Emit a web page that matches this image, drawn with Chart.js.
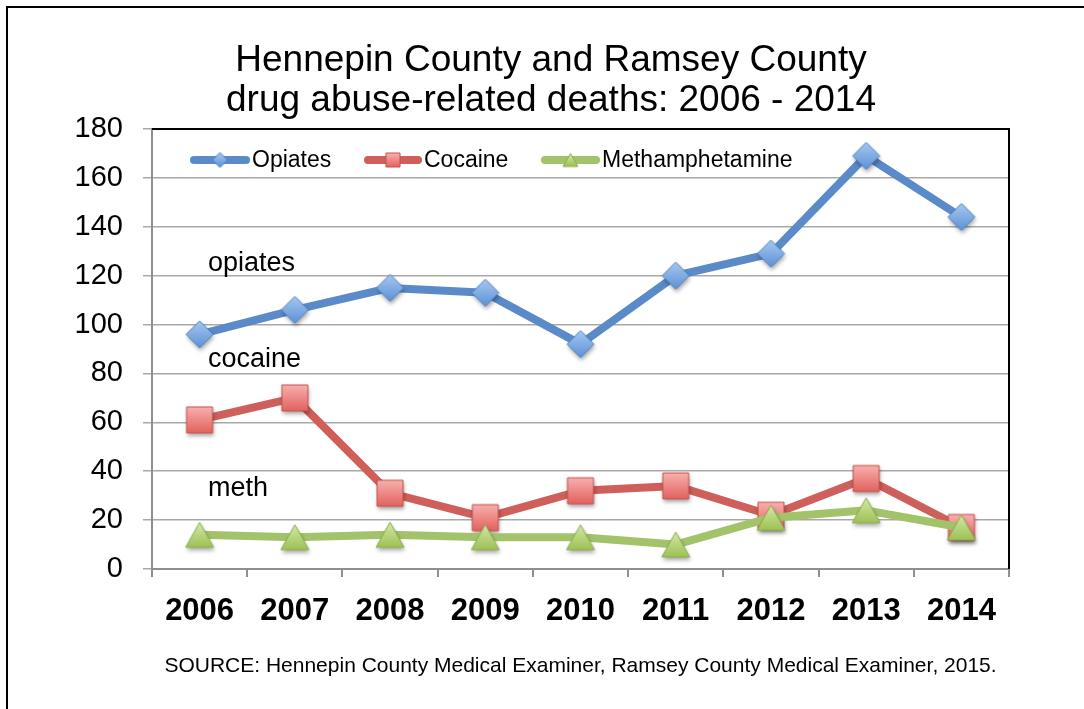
<!DOCTYPE html>
<html>
<head>
<meta charset="utf-8">
<script src="https://cdn.jsdelivr.net/npm/chart.js@4.4.1/dist/chart.umd.min.js"></script>
<style>
  html, body { margin: 0; padding: 0; background: #fff; }
  canvas { display: block; }
</style>
</head>
<body>
<canvas id="chart" width="1084" height="709"></canvas>
<script>
// Drug abuse-related deaths, Hennepin + Ramsey counties
const years = ['2006', '2007', '2008', '2009', '2010', '2011', '2012', '2013', '2014'];
const opiates = [96, 106, 115, 113, 92, 120, 129, 169, 144];
const cocaine = [61, 70, 31, 21, 32, 34, 22, 37, 17];
const meth = [14, 13, 14, 13, 13, 10, 21, 24, 17];
const yMin = 0, yMax = 180, yStep = 20;

const titleLines = ['Hennepin County and Ramsey County', 'drug abuse-related deaths: 2006 - 2014'];
const sourceNote = 'SOURCE: Hennepin County Medical Examiner, Ramsey County Medical Examiner, 2015.';
const seriesNotes = ['opiates', 'cocaine', 'meth'];

const FONT = '"Liberation Sans", Arial, Helvetica, sans-serif';

// Marker images: gradient fill, thin edge, soft drop shadow
function makeMarker(shape, w, h, light, dark, edge, shadow) {
  const pad = 8;
  const c = document.createElement('canvas');
  c.width = Math.ceil(w + pad * 2);
  c.height = Math.ceil(h + pad * 2);
  const g = c.getContext('2d');
  const cx = c.width / 2, cy = c.height / 2, hw = w / 2, hh = h / 2;
  g.beginPath();
  if (shape === 'diamond') {
    g.moveTo(cx, cy - hh); g.lineTo(cx + hw, cy); g.lineTo(cx, cy + hh); g.lineTo(cx - hw, cy);
  } else if (shape === 'square') {
    g.rect(cx - hw, cy - hh, w, h);
  } else {
    g.moveTo(cx, cy - hh); g.lineTo(cx + hw, cy + hh); g.lineTo(cx - hw, cy + hh);
  }
  g.closePath();
  if (shadow) {
    g.shadowColor = 'rgba(0,0,0,0.35)';
    g.shadowBlur = 4;
    g.shadowOffsetX = 1;
    g.shadowOffsetY = 3;
  }
  const grad = g.createLinearGradient(0, cy - hh, 0, cy + hh);
  grad.addColorStop(0, light);
  grad.addColorStop(1, dark);
  g.fillStyle = grad;
  g.fill();
  g.shadowColor = 'transparent';
  g.lineWidth = 1;
  g.strokeStyle = edge;
  g.stroke();
  return c;
}

const colors = {
  opiates: { line: '#5A8BC8', light: '#A6C8F2', dark: '#5C92D6', edge: '#4C7FBE' },
  cocaine: { line: '#CF5F5A', light: '#F8B0AE', dark: '#E2625E', edge: '#C4514D' },
  meth:    { line: '#A3C36A', light: '#D3E8A8', dark: '#9DC254', edge: '#8CAE4C' }
};

const mk = {
  opiates: makeMarker('diamond', 27, 27, colors.opiates.light, colors.opiates.dark, colors.opiates.edge, true),
  cocaine: makeMarker('square', 26, 26, colors.cocaine.light, colors.cocaine.dark, colors.cocaine.edge, true),
  meth:    makeMarker('triangle', 28, 25, colors.meth.light, colors.meth.dark, colors.meth.edge, true)
};
const mkSmall = {
  opiates: makeMarker('diamond', 15, 15, colors.opiates.light, colors.opiates.dark, colors.opiates.edge, false),
  cocaine: makeMarker('square', 14, 14, colors.cocaine.light, colors.cocaine.dark, colors.cocaine.edge, false),
  meth:    makeMarker('triangle', 15, 13, colors.meth.light, colors.meth.dark, colors.meth.edge, false)
};

// Legend entries: line sample from x0 to x1, text from tx
const legendItems = [
  { key: 'opiates', x0: 190, x1: 250, tx: 252 },
  { key: 'cocaine', x0: 364, x1: 422, tx: 424 },
  { key: 'meth',    x0: 541, x1: 600, tx: 602 }
];

const decor = {
  id: 'decor',
  beforeDraw(chart) {
    const ctx = chart.ctx;
    ctx.save();
    ctx.fillStyle = '#fff';
    ctx.fillRect(0, 0, chart.width, chart.height);
    // outer frame
    ctx.strokeStyle = '#000';
    ctx.lineWidth = 2;
    ctx.beginPath();
    ctx.moveTo(7, chart.height + 2);
    ctx.lineTo(7, 7);
    ctx.lineTo(chart.width + 2, 7);
    ctx.stroke();
    // title
    ctx.fillStyle = '#000';
    ctx.textAlign = 'center';
    ctx.textBaseline = 'alphabetic';
    ctx.font = '37px ' + FONT;
    ctx.fillText(titleLines[0], 551, 71);
    ctx.fillText(titleLines[1], 551, 111);
    // source line
    const area = chart.chartArea;
    ctx.font = '21px ' + FONT;
    ctx.fillText(sourceNote, (area.left + area.right) / 2, 672);
    ctx.restore();
  },
  beforeDatasetsDraw(chart) {
    const ctx = chart.ctx, a = chart.chartArea;
    ctx.save();
    // plot area border, top and right
    ctx.strokeStyle = '#000';
    ctx.lineWidth = 2;
    ctx.beginPath();
    ctx.moveTo(a.left, a.top);
    ctx.lineTo(a.right, a.top);
    ctx.lineTo(a.right, a.bottom);
    ctx.stroke();
    // series notes inside the plot
    ctx.fillStyle = '#000';
    ctx.font = '27px ' + FONT;
    ctx.textAlign = 'left';
    ctx.textBaseline = 'alphabetic';
    const noteBaselines = [271, 367, 496];
    seriesNotes.forEach((t, i) => ctx.fillText(t, 208, noteBaselines[i]));
    // legend
    const ly = 160;
    ctx.font = '23px ' + FONT;
    ctx.textBaseline = 'middle';
    legendItems.forEach(it => {
      const c = colors[it.key];
      ctx.strokeStyle = c.line;
      ctx.lineWidth = 8;
      ctx.lineCap = 'round';
      ctx.beginPath();
      ctx.moveTo(it.x0 + 4, ly);
      ctx.lineTo(it.x1 - 4, ly);
      ctx.stroke();
      const img = mkSmall[it.key];
      ctx.drawImage(img, (it.x0 + it.x1) / 2 - img.width / 2, ly - img.height / 2);
      ctx.fillStyle = '#000';
      ctx.fillText(chart.data.datasets.find(d => d.key === it.key).label, it.tx, ly + 1);
    });
    ctx.restore();
  }
};

function series(label, key, data, order) {
  return {
    label, key, data, order,
    borderColor: colors[key].line,
    backgroundColor: colors[key].line,
    borderWidth: 8,
    borderJoinStyle: 'round',
    borderCapStyle: 'round',
    tension: 0,
    pointStyle: mk[key],
    pointRadius: 13,
    pointHoverRadius: 13
  };
}

new Chart(document.getElementById('chart'), {
  type: 'line',
  data: {
    labels: years,
    datasets: [
      series('Opiates', 'opiates', opiates, 2),
      series('Cocaine', 'cocaine', cocaine, 1),
      series('Methamphetamine', 'meth', meth, 0)
    ]
  },
  options: {
    responsive: false,
    animation: false,
    devicePixelRatio: 1,
    events: [],
    layout: { padding: { top: 129, right: 75, bottom: 0, left: 0 } },
    plugins: {
      legend: { display: false },
      tooltip: { enabled: false },
      title: { display: false }
    },
    scales: {
      x: {
        offset: true,
        grid: { offset: true, drawOnChartArea: false, tickLength: 8, color: '#8f8f8f', lineWidth: 2 },
        border: { color: '#8f8f8f', width: 2 },
        ticks: {
          color: '#000',
          font: { family: FONT, size: 31, weight: 'bold' },
          padding: 16,
          maxRotation: 0,
          autoSkip: false
        },
        afterFit(s) { s.height = 140; }
      },
      y: {
        min: yMin,
        max: yMax,
        grid: { color: '#a8a8a8', lineWidth: 1.5, tickLength: 9 },
        border: { color: '#8f8f8f', width: 2 },
        ticks: {
          stepSize: yStep,
          color: '#000',
          font: { family: FONT, size: 29 },
          padding: 20
        },
        afterFit(s) { s.width = 152; }
      }
    }
  },
  plugins: [decor]
});
</script>
</body>
</html>
